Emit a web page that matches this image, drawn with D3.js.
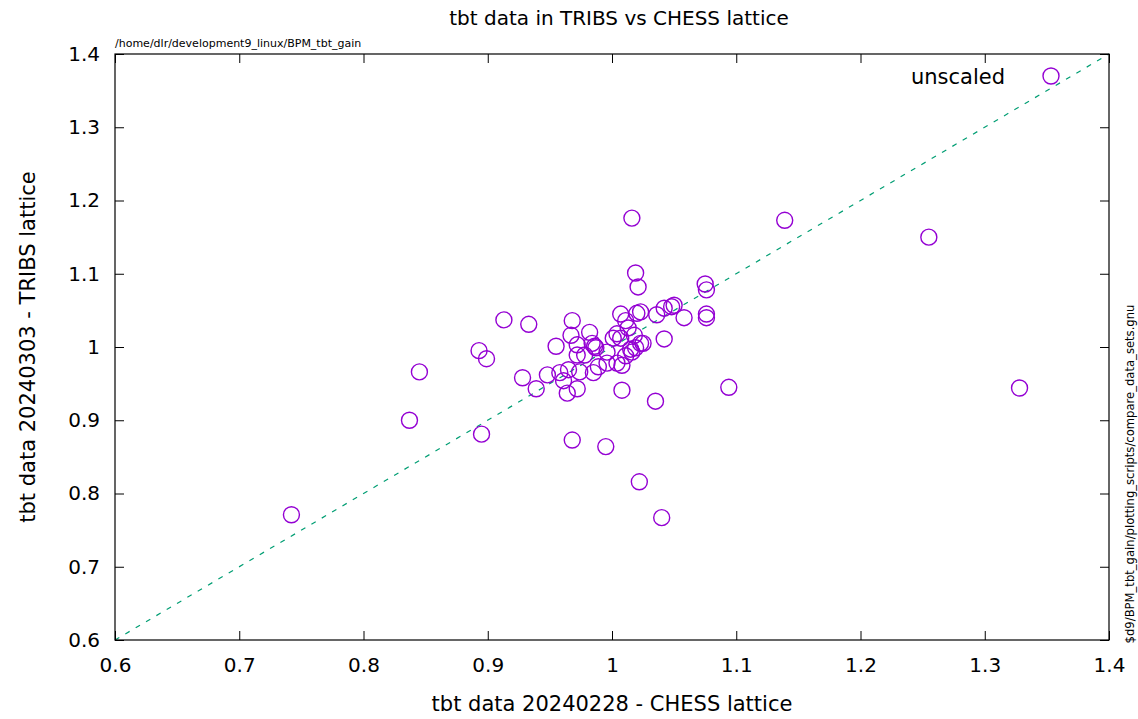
<!DOCTYPE html>
<html><head><meta charset="utf-8">
<script src="https://cdn.jsdelivr.net/npm/d3@7"></script>
<style>body{margin:0;background:#fff}text{font-family:"DejaVu Sans",sans-serif;fill:#000}</style>
</head><body>
<svg id="c" width="1138" height="719"></svg>
<script>
const chessX = [0.742,0.837,0.845,0.893,0.899,0.895,0.913,0.933,0.928,0.939,0.948,0.955,0.958,0.961,0.964,0.965,0.968,0.967,0.968,0.972,0.972,0.972,0.974,0.978,0.982,0.984,0.986,0.987,0.985,0.989,0.995,0.996,0.996,1.004,1.007,1.007,1.008,1.008,1.011,1.011,1.013,1.015,1.016,1.019,1.018,1.019,1.021,1.020,1.023,1.023,1.022,1.035,1.036,1.042,1.042,1.040,1.048,1.050,1.058,1.075,1.076,1.076,1.076,1.094,1.139,1.255,1.328,1.001,1.025,1.016,1.004];
const tribsY = [0.771,0.900,0.966,0.995,0.984,0.881,1.037,1.031,0.958,0.943,0.962,1.001,0.965,0.954,0.937,0.969,1.036,1.016,0.873,1.003,0.989,0.943,0.966,0.989,1.020,1.005,1.001,0.999,0.965,0.973,0.864,0.993,0.978,1.018,1.012,1.045,0.975,0.941,1.036,0.988,1.026,0.997,1.176,1.101,1.016,0.999,1.082,1.046,1.048,1.005,0.816,0.926,1.044,1.053,1.011,0.767,1.055,1.057,1.040,1.086,1.078,1.045,1.040,0.945,1.173,1.150,0.944,1.012,1.005,0.993,0.978];
const xTicks = [0.6,0.7,0.8,0.9,1.0,1.1,1.2,1.3,1.4];
const yTicks = [0.6,0.7,0.8,0.9,1.0,1.1,1.2,1.3,1.4];
const tickFmt = v => (Math.abs(v-1)<1e-9 ? "1" : v.toFixed(1));
const title = "tbt data in TRIBS vs CHESS lattice";
const xLabel = "tbt data 20240228 - CHESS lattice";
const yLabel = "tbt data 20240303 - TRIBS lattice";
const legendLabel = "unscaled";
const topNote = "/home/dlr/development9_linux/BPM_tbt_gain";
const sideNote = "$d9/BPM_tbt_gain/plotting_scripts/compare_data_sets.gnu";

const L=115,R=1109,T=54,B=640;
const svg=d3.select("#c");
const x=d3.scaleLinear().domain([0.6,1.4]).range([L,R]);
const y=d3.scaleLinear().domain([0.6,1.4]).range([B,T]);
const purple="#9400d3", green="#009e73";

svg.append("line").attr("x1",x(0.6)).attr("y1",y(0.6)).attr("x2",x(1.4)).attr("y2",y(1.4))
  .attr("stroke",green).attr("stroke-width",1.2).attr("stroke-dasharray","5,7");

const ax=(g,axis)=>{g.call(axis);g.select(".domain").remove();g.selectAll("line").attr("stroke","#000").attr("stroke-width",1);};
const fs="20px";
svg.append("g").attr("transform",`translate(0,${B})`).call(g=>ax(g,d3.axisBottom(x).tickValues(xTicks).tickFormat(tickFmt).tickSizeInner(-9).tickPadding(18)))
  .selectAll("text").style("font-size",fs).attr("font-family","DejaVu Sans");
svg.append("g").attr("transform",`translate(0,${T})`).call(g=>ax(g,d3.axisTop(x).tickValues(xTicks).tickFormat("").tickSizeInner(-9)));
svg.append("g").attr("transform",`translate(${L},0)`).call(g=>ax(g,d3.axisLeft(y).tickValues(yTicks).tickFormat(tickFmt).tickSizeInner(-9).tickPadding(15)))
  .selectAll("text").style("font-size",fs).attr("font-family","DejaVu Sans");
svg.append("g").attr("transform",`translate(${R},0)`).call(g=>ax(g,d3.axisRight(y).tickValues(yTicks).tickFormat("").tickSizeInner(-9)));
svg.append("rect").attr("x",L).attr("y",T).attr("width",R-L).attr("height",B-T).attr("fill","none").attr("stroke","#000").attr("stroke-width",1.2);

svg.append("g").selectAll("circle").data(chessX.map((v,i)=>[v,tribsY[i]])).join("circle")
  .attr("cx",d=>x(d[0])).attr("cy",d=>y(d[1])).attr("r",8)
  .attr("fill","none").attr("stroke",purple).attr("stroke-width",1.4);

svg.append("text").attr("x",1005).attr("y",84).attr("text-anchor","end").style("font-size","21px").text(legendLabel);
svg.append("circle").attr("cx",1051).attr("cy",76).attr("r",8).attr("fill","none").attr("stroke",purple).attr("stroke-width",1.4);

svg.append("text").attr("x",619).attr("y",25).attr("text-anchor","middle").style("font-size","20px").text(title);
svg.append("text").attr("x",612).attr("y",711).attr("text-anchor","middle").style("font-size","21px").text(xLabel);
svg.append("text").attr("transform","translate(35,347) rotate(-90)").attr("text-anchor","middle").style("font-size","21px").text(yLabel);
svg.append("text").attr("x",115).attr("y",47).style("font-size","11px").text(topNote);
svg.append("text").attr("transform","translate(1134,474) rotate(-90)").attr("text-anchor","middle").style("font-size","11.6px").text(sideNote);
</script>
</body></html>
